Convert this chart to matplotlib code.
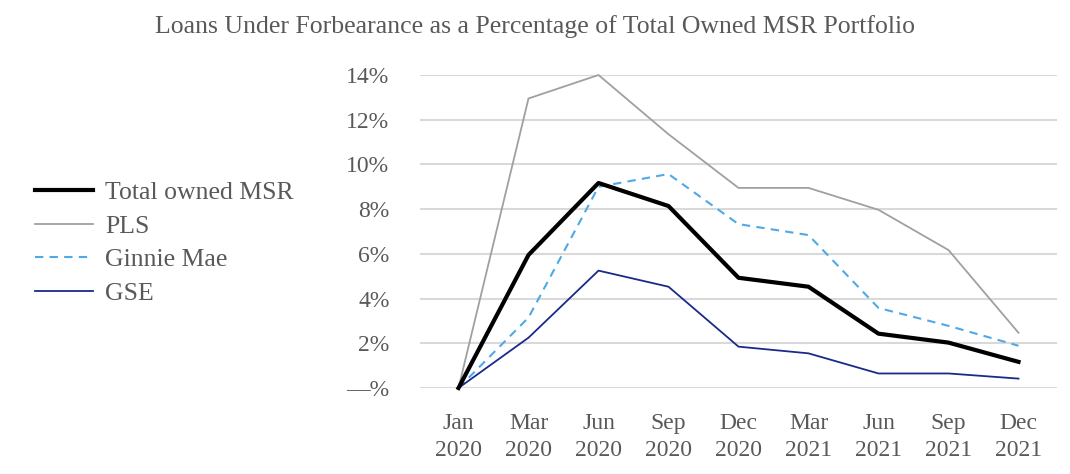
import matplotlib
matplotlib.use("Agg")
import matplotlib.pyplot as plt
from matplotlib.ticker import FuncFormatter

categories = ["Jan\n2020", "Mar\n2020", "Jun\n2020", "Sep\n2020", "Dec\n2020",
              "Mar\n2021", "Jun\n2021", "Sep\n2021", "Dec\n2021"]
total_msr = [0.0, 5.95, 9.17, 8.14, 4.93, 4.53, 2.43, 2.03, 1.17]
pls = [0.0, 12.95, 14.0, 11.35, 8.95, 8.95, 7.97, 6.17, 2.47]
ginnie_mae = [0.0, 3.15, 9.0, 9.57, 7.33, 6.84, 3.58, 2.78, 1.89]
gse = [0.0, 2.25, 5.25, 4.53, 1.85, 1.55, 0.65, 0.65, 0.42]
title = "Loans Under Forbearance as a Percentage of Total Owned MSR Portfolio"

plt.rcParams['font.family'] = ['Liberation Serif', 'DejaVu Serif']
txt = '#595959'

fig = plt.figure(figsize=(10.7, 4.74), dpi=100)
ax = fig.add_axes([420/1070, 1-388/474, 637/1070, (388-75)/474])

x = list(range(len(categories)))
ax.plot(x, total_msr, color='black', lw=3.0, label='Total owned MSR', zorder=5, clip_on=False)
ax.plot(x, pls, color='#a0a0a0', lw=1.3, label='PLS', zorder=3, clip_on=False)
ax.plot(x, ginnie_mae, color='#4ea9e6', lw=1.5, ls=(0, (4, 3)), label='Ginnie Mae', zorder=4, clip_on=False)
ax.plot(x, gse, color='#1a2a8a', lw=1.3, label='GSE', zorder=4, clip_on=False)

ax.set_xlim(-0.55, 8.55)
ax.set_ylim(0, 14)
ax.set_yticks([0, 2, 4, 6, 8, 10, 12, 14])
ax.yaxis.set_major_formatter(FuncFormatter(lambda v, p: "\u2014%" if v == 0 else f"{int(v)}%"))
ax.set_xticks(x)
ax.set_xticklabels(categories, linespacing=1.38)
ax.grid(axis='y', color='#d9d9d9', lw=1.5)
ax.set_axisbelow(True)
for s in ax.spines.values():
    s.set_visible(False)
ax.tick_params(axis='both', length=0, colors=txt, labelsize=17)
ax.tick_params(axis='y', pad=22)
ax.tick_params(axis='x', pad=18)

fig.text(0.5, 1-27/474, title, ha='center', va='center', fontsize=18.5, color=txt)

leg = fig.legend(loc='center left', bbox_to_anchor=(35/1070, 1-243/474), frameon=False,
                 fontsize=18.5, handlelength=2.25, labelspacing=0.42, handletextpad=0.47,
                 borderpad=0, borderaxespad=0)
for t in leg.get_texts():
    t.set_color(txt)

fig.savefig("out.png", dpi=100)
